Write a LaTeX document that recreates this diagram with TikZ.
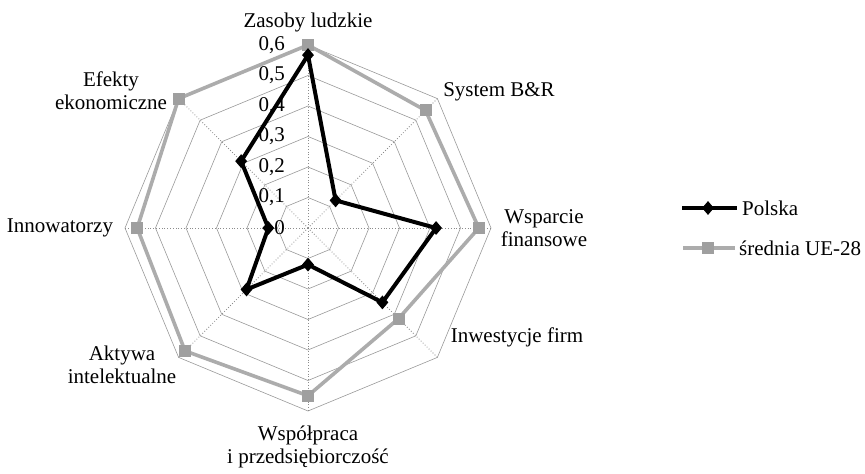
\documentclass[tikz,border=0pt]{standalone}
\usepackage{fontspec}
\setmainfont{Liberation Serif}
\usetikzlibrary{shapes.geometric}
\begin{document}
\begin{tikzpicture}[x=1pt,y=1pt,
  ring/.style={draw=gray!80, line width=0.6pt},
  spoke/.style={draw=gray!90, line width=0.8pt, dotted},
  plline/.style={draw=black, line width=4pt, line join=round},
  euline/.style={draw=gray!65, line width=3.6pt, line join=round},
  plmark/.style={diamond, fill=black, inner sep=0pt, minimum width=12pt, minimum height=14pt},
  eumark/.style={rectangle, fill=gray!75, inner sep=0pt, minimum size=12pt},
  lab/.style={font=\fontsize{21}{23}\selectfont, align=center, inner sep=0pt},
  ticklab/.style={font=\fontsize{21}{23}\selectfont, anchor=east, inner sep=0pt}]
\useasboundingbox (-308,-246) rectangle (557,228);

% grid: octagonal rings every 0.1 (30.5pt)
\foreach \k in {1,...,6}{
  \pgfmathsetmacro\r{\k*30.5}
  \draw[ring] (90:\r) -- (45:\r) -- (0:\r) -- (-45:\r) -- (-90:\r)
     -- (-135:\r) -- (180:\r) -- (135:\r) -- cycle;
}

% spokes
\coordinate (O) at (0,0);
\foreach \i/\a in {1/90,2/45,3/0,4/-45,5/-90,6/-135,7/180,8/135}{
  \coordinate (ax\i) at (\a:183);
  \draw[spoke] (O) -- (ax\i);
}

% scale labels
\foreach \k/\t in {0/0,1/{0,1},2/{0,2},3/{0,3},4/{0,4},5/{0,5},6/{0,6}}{
  \node[ticklab] (t\k) at (-23,\k*30.5) {\t};
}

% data points (305pt per unit)
\foreach \i/\a/\p/\e in {1/90/0.567/0.6, 2/45/0.128/0.545, 3/0/0.42/0.56,
    4/-45/0.345/0.42, 5/-90/0.12/0.55, 6/-135/0.285/0.57,
    7/180/0.13/0.56, 8/135/0.31/0.6}{
  \coordinate (p\i) at (\a:{\p*305});
  \coordinate (e\i) at (\a:{\e*305});
}

% EU-28 average
\draw[euline] (e1) -- (e2) -- (e3) -- (e4) -- (e5) -- (e6) -- (e7) -- (e8) -- cycle;
\foreach \i in {1,...,8}{ \node[eumark] (em\i) at (e\i) {}; }

% Poland
\draw[plline] (p1) -- (p2) -- (p3) -- (p4) -- (p5) -- (p6) -- (p7) -- (p8) -- cycle;
\foreach \i in {1,...,8}{ \node[plmark] (pm\i) at (p\i) {}; }

% axis names
\node[lab] (l1) at (0,206) {Zasoby ludzkie};
\node[lab] (l2) at (191,136) {System B\&R};
\node[lab] (l3) at (236,0) {Wsparcie\\finansowe};
\node[lab] (l4) at (209,-109) {Inwestycje firm};
\node[lab] (l5) at (0,-219) {Współpraca\\i przedsiębiorczość};
\node[lab] (l6) at (-186,-137) {Aktywa\\intelektualne};
\node[lab] (l7) at (-248,0) {Innowatorzy};
\node[lab] (l8) at (-197,137) {Efekty\\ekonomiczne};

% legend
\coordinate (lgA1) at (374,20);
\coordinate (lgA2) at (429,20);
\draw[plline] (lgA1) -- (lgA2);
\node[plmark] (lgAm) at (400,20) {};
\node[lab, anchor=west] (lgAt) at (434,20) {Polska};

\coordinate (lgB1) at (375,-20);
\coordinate (lgB2) at (427,-20);
\draw[euline] (lgB1) -- (lgB2);
\node[eumark] (lgBm) at (400,-20) {};
\node[lab, anchor=west] (lgBt) at (431,-20) {średnia UE-28};
\end{tikzpicture}
\end{document}
